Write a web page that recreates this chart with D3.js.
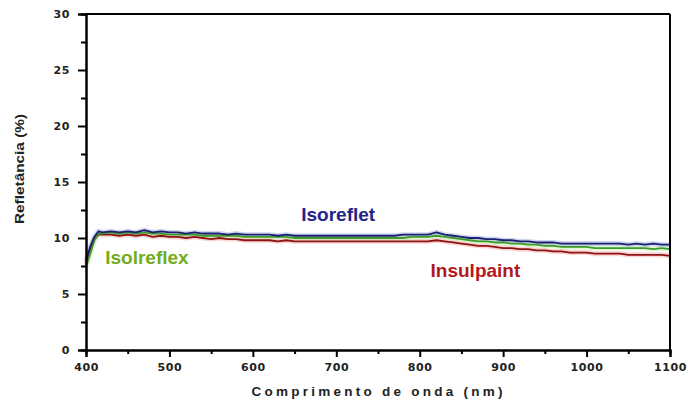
<!DOCTYPE html>
<html><head><meta charset="utf-8">
<script src="https://cdn.jsdelivr.net/npm/d3@7"></script>
<style>html,body{margin:0;padding:0;background:#fff;}svg{display:block;}</style>
</head><body>
<svg id="c" width="688" height="405"></svg>
<script>
const wavelengths = [400,405,410,415,420,430,440,450,460,470,480,490,500,510,520,530,540,550,560,570,580,590,600,610,620,630,640,650,660,670,680,690,700,710,720,730,740,750,760,770,780,790,800,810,820,830,840,850,860,870,880,890,900,910,920,930,940,950,960,970,980,990,1000,1010,1020,1030,1040,1050,1060,1070,1080,1090,1100];
const isoreflet = [8.0,9.2,10.1,10.6,10.5,10.6,10.5,10.6,10.5,10.7,10.5,10.6,10.5,10.5,10.4,10.5,10.4,10.4,10.4,10.3,10.4,10.3,10.3,10.3,10.3,10.2,10.3,10.2,10.2,10.2,10.2,10.2,10.2,10.2,10.2,10.2,10.2,10.2,10.2,10.2,10.3,10.3,10.3,10.3,10.5,10.3,10.2,10.1,10.0,10.0,9.9,9.9,9.8,9.8,9.7,9.7,9.6,9.6,9.6,9.5,9.5,9.5,9.5,9.5,9.5,9.5,9.5,9.4,9.5,9.4,9.5,9.4,9.4];
const isolreflex = [7.4,8.6,9.8,10.4,10.4,10.5,10.4,10.5,10.4,10.5,10.4,10.4,10.3,10.3,10.3,10.3,10.2,10.2,10.2,10.2,10.2,10.1,10.1,10.1,10.1,10.1,10.1,10.0,10.0,10.0,10.0,10.0,10.0,10.0,10.0,10.0,10.0,10.0,10.0,10.0,10.0,10.1,10.1,10.1,10.2,10.1,10.0,9.9,9.8,9.7,9.7,9.6,9.6,9.5,9.5,9.4,9.4,9.3,9.3,9.2,9.2,9.2,9.2,9.1,9.1,9.1,9.1,9.1,9.1,9.1,9.0,9.1,9.0];
const insulpaint = [7.7,8.9,9.9,10.3,10.3,10.3,10.2,10.3,10.2,10.3,10.1,10.2,10.1,10.1,10.0,10.1,10.0,9.9,10.0,9.9,9.9,9.8,9.8,9.8,9.8,9.7,9.8,9.7,9.7,9.7,9.7,9.7,9.7,9.7,9.7,9.7,9.7,9.7,9.7,9.7,9.7,9.7,9.7,9.7,9.8,9.7,9.6,9.5,9.4,9.3,9.3,9.2,9.1,9.1,9.0,9.0,8.9,8.9,8.8,8.8,8.7,8.7,8.7,8.6,8.6,8.6,8.6,8.5,8.5,8.5,8.5,8.5,8.4];
const xTicks = [400,500,600,700,800,900,1000,1100];
const yTicks = [0,5,10,15,20,25,30];
const seriesNames = ["Insulpaint","Isolreflex","Isoreflet"];
const labelPos = [[813,6.52],[423,7.68],[658,11.52]];

const svg = d3.select("#c");
const x = d3.scaleLinear().domain([400,1100]).range([86,670]);
const y = d3.scaleLinear().domain([0,30]).range([350,14]);

const series = [
  {name:"Insulpaint", vals: insulpaint, color:"#8e1414", halo:"#f4a0a0", text:"#b3171b"},
  {name:"Isolreflex", vals: isolreflex, color:"#3e9a2c", halo:"#b8f0a0", text:"#72ad1c"},
  {name:"Isoreflet", vals: isoreflet, color:"#1b2070", halo:"#9aa6e0", text:"#1e2488"}
];

const line = d3.line().x((d,i)=>x(wavelengths[i])).y(d=>y(d));
series.forEach(s=>{
  svg.append("path").attr("d", line(s.vals)).attr("fill","none")
    .attr("stroke", s.halo).attr("stroke-width",5).attr("stroke-opacity",0.45).attr("stroke-linejoin","round");
});
series.forEach(s=>{
  svg.append("path").attr("d", line(s.vals)).attr("fill","none")
    .attr("stroke", s.color).attr("stroke-width",1.8).attr("stroke-linejoin","round");
});

// frame top/right
svg.append("line").attr("x1",86).attr("x2",670).attr("y1",y(30)).attr("y2",y(30)).attr("stroke","#000").attr("stroke-width",2);
svg.append("line").attr("x1",x(1100)).attr("x2",x(1100)).attr("y1",14).attr("y2",350).attr("stroke","#000").attr("stroke-width",2);

// axes
const xAxis = svg.append("g").attr("transform","translate(0,350)")
  .call(d3.axisBottom(x).tickValues(xTicks).tickSize(7).tickPadding(4).tickFormat(d3.format("d")));
const xMinor = svg.append("g").attr("transform","translate(0,350)")
  .call(d3.axisBottom(x).tickValues([450,550,650,750,850,950,1050]).tickSize(4).tickFormat(""));
const yAxis = svg.append("g").attr("transform","translate(86,0)")
  .call(d3.axisLeft(y).tickValues(yTicks).tickSize(8).tickPadding(8).tickFormat(d3.format("d")));
const yMinor = svg.append("g").attr("transform","translate(86,0)")
  .call(d3.axisLeft(y).tickValues([2.5,7.5,12.5,17.5,22.5,27.5]).tickSize(5).tickFormat(""));
[xAxis,xMinor,yAxis,yMinor].forEach(g=>{
  g.select(".domain").attr("stroke","#000").attr("stroke-width",2);
  g.selectAll(".tick line").attr("stroke","#000").attr("stroke-width",2);
  g.selectAll("text").attr("font-family","DejaVu Sans, sans-serif").attr("font-weight","bold")
    .attr("font-size",11).attr("fill","#222").attr("letter-spacing","0.6px");
});
xAxis.selectAll(".tick text").attr("dy","0.9em");

// axis titles
svg.append("text").attr("x",377).attr("y",396).attr("text-anchor","middle")
  .attr("font-family","Liberation Sans, Arial, sans-serif").attr("font-weight","bold").attr("font-size",13.5)
  .attr("fill","#222").attr("textLength",251).attr("lengthAdjust","spacing")
  .text("Comprimento de onda (nm)");
svg.append("text").attr("transform","translate(24,169) rotate(-90)").attr("text-anchor","middle")
  .attr("font-family","Liberation Sans, Arial, sans-serif").attr("font-weight","bold").attr("font-size",13.5)
  .attr("fill","#222").attr("textLength",110).attr("lengthAdjust","spacingAndGlyphs")
  .text("Refletância (%)");

// series labels
series.forEach((s,i)=>{
  const p = labelPos[i];
  svg.append("text").attr("x",x(p[0])).attr("y",y(p[1]))
    .attr("font-family","Liberation Sans, Arial, sans-serif").attr("font-weight","bold").attr("font-size",19)
    .attr("fill",s.text).text(seriesNames[i]);
});
</script>
</body></html>
